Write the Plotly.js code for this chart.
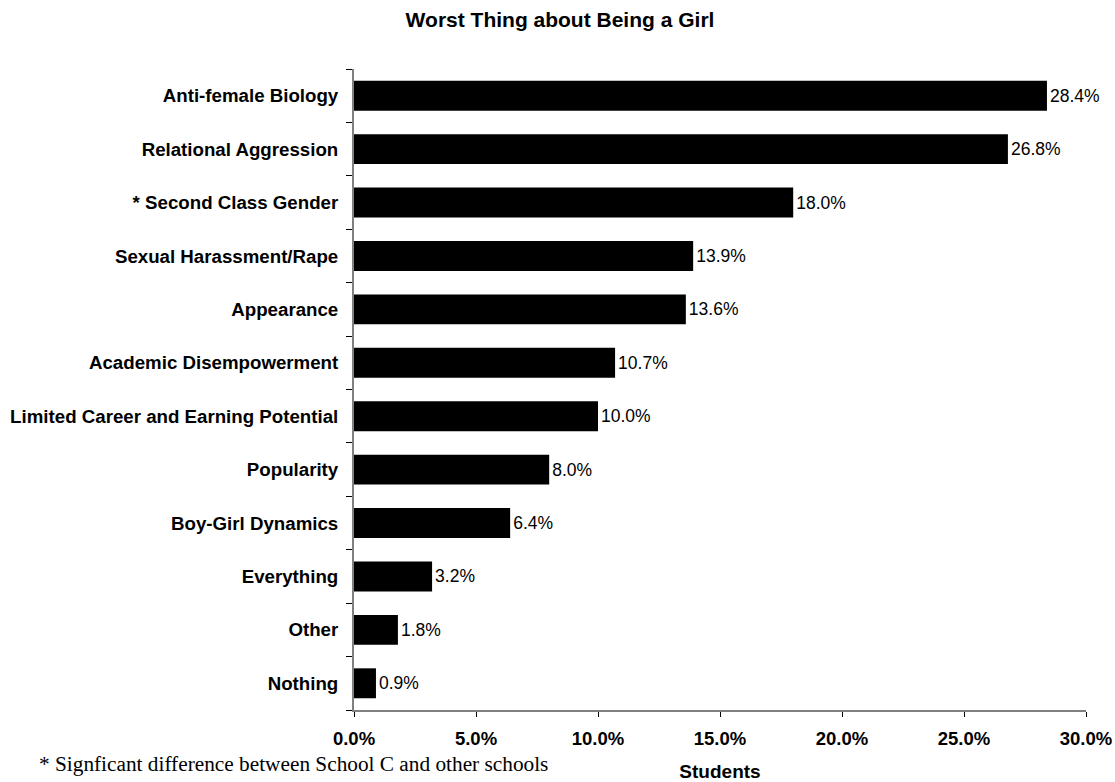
<!DOCTYPE html>
<html>
<head>
<meta charset="utf-8">
<script src="https://cdn.plot.ly/plotly-3.0.1.min.js"></script>
<style>body{margin:0;padding:0;background:#fff}#chart{width:1115px;height:782px}</style>
</head>
<body>
<div id="chart"></div>
<script>
const categories = ["Anti-female Biology","Relational Aggression","* Second Class Gender","Sexual Harassment/Rape","Appearance","Academic Disempowerment","Limited Career and Earning Potential","Popularity","Boy-Girl Dynamics","Everything","Other","Nothing"];
const values = [28.4, 26.8, 18.0, 13.9, 13.6, 10.7, 10.0, 8.0, 6.4, 3.2, 1.8, 0.9];
const tickVals = [0, 5, 10, 15, 20, 25, 30];
const tickLabels = ["0.0%","5.0%","10.0%","15.0%","20.0%","25.0%","30.0%"];

const SANS = "Liberation Sans, Arial, sans-serif";

const trace = {
  type: "bar",
  orientation: "h",
  x: values,
  y: categories,
  marker: {color: "#000000"},
  text: values.map(v => v.toFixed(1) + "%"),
  textposition: "outside",
  textfont: {family: SANS, size: 17.5, color: "#000"},
  cliponaxis: false,
  hoverinfo: "none"
};

const layout = {
  width: 1115, height: 782,
  margin: {l: 354, r: 29, t: 69, b: 72},
  paper_bgcolor: "#fff", plot_bgcolor: "#fff",
  showlegend: false,
  bargap: 0.44,
  font: {family: SANS, color: "#000"},
  title: {text: "<b>Worst Thing about Being a Girl</b>", x: 560/1115, xanchor: "center", y: 1 - 20/782, yanchor: "middle", xref: "container", yref: "container",
          font: {family: SANS, size: 21, color: "#000"}},
  xaxis: {
    range: [0, 30], tickvals: tickVals, ticktext: tickLabels,
    showgrid: false, zeroline: false,
    showline: true, linecolor: "#808080", linewidth: 2,
    ticks: "outside", ticklen: 5, tickcolor: "#000", tickwidth: 1,
    ticklabelstandoff: 6,
    tickfont: {family: SANS, size: 18.5, color: "#000", weight: "bold"},
    title: {text: "<b>Students</b>", font: {family: SANS, size: 19, color: "#000"}, standoff: 17},
    fixedrange: true
  },
  yaxis: {
    categoryorder: "array", categoryarray: categories.slice().reverse(),
    showgrid: false, zeroline: false,
    showline: true, linecolor: "#808080", linewidth: 2,
    ticks: "outside", tickson: "boundaries", ticklen: 6, tickcolor: "#000", tickwidth: 1,
    ticklabelstandoff: 10,
    tickfont: {family: SANS, size: 18.7, color: "#000", weight: "bold"},
    fixedrange: true
  },
  annotations: [{
    text: "* Signficant difference between School C and other schools",
    xref: "paper", yref: "paper", x: (37 - 354) / 732, y: 0, xanchor: "left", yanchor: "middle",
    yshift: -54, showarrow: false,
    font: {family: "Liberation Serif, Times New Roman, serif", size: 21.3, color: "#000"}
  }]
};

Plotly.newPlot("chart", [trace], layout, {displayModeBar: false, staticPlot: true});
</script>
</body>
</html>
